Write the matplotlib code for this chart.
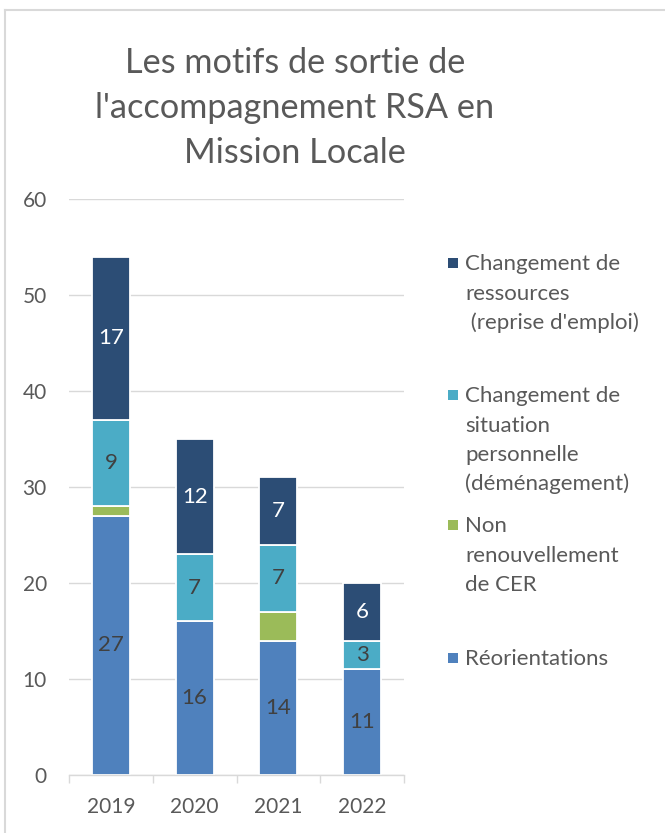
import matplotlib
matplotlib.use("Agg")
import matplotlib.pyplot as plt
from matplotlib.patches import Rectangle
from matplotlib.lines import Line2D
import numpy as np

plt.rcParams['font.family'] = ['Lato', 'DejaVu Sans']

years = ["2019", "2020", "2021", "2022"]
reorientations = [27, 16, 14, 11]
non_renouvellement = [1, 0, 3, 0]
changement_situation = [9, 7, 7, 3]
changement_ressources = [17, 12, 7, 6]

series_names = ["Réorientations",
                "Non\nrenouvellement\nde CER",
                "Changement de\nsituation\npersonnelle\n(déménagement)",
                "Changement de\nressources\n (reprise d'emploi)"]
series_values = [reorientations, non_renouvellement, changement_situation, changement_ressources]
colors = ["#4F81BD", "#9BBB59", "#4BACC6", "#2C4D75"]
label_colors = ["#404040", None, "#404040", "#FFFFFF"]

title_lines = ["Les motifs de sortie de", "l'accompagnement RSA en", "Mission Locale"]
yticks = [0, 10, 20, 30, 40, 50, 60]

W, H = 665, 833
fig = plt.figure(figsize=(W / 100, H / 100), dpi=100)
ax = fig.add_axes([69 / W, 1 - 775 / H, (404 - 69) / W, (775 - 199) / H])

grey = "#595959"
gridc = "#D9D9D9"

x = np.arange(len(years))
bottom = np.zeros(len(years))
for vals, col, lc in zip(series_values, colors, label_colors):
    v = np.array(vals, dtype=float)
    ax.bar(x, v, width=0.455, bottom=bottom, color=col,
           edgecolor="white", linewidth=1.3, zorder=3)
    if lc is not None:
        for xi, b, vi in zip(x, bottom, v):
            if vi > 0:
                ax.text(xi, b + vi / 2, f"{int(vi)}", ha="center", va="center",
                        color=lc, fontsize=16, zorder=4)
    bottom += v

ax.set_xlim(-0.5, len(years) - 0.5)
ax.set_ylim(0, 60)
ax.set_yticks(yticks)
ax.set_yticklabels([str(t) for t in yticks])
ax.set_xticks(x)
ax.set_xticklabels(years)
ax.set_xticks(np.arange(-0.5, len(years)), minor=True)
ax.tick_params(axis="x", which="major", length=0, pad=16, labelsize=15, labelcolor=grey)
ax.tick_params(axis="x", which="minor", length=5.5, width=1, color=gridc, direction="out")
ax.tick_params(axis="y", length=0, pad=16, labelsize=15, labelcolor=grey)
ax.yaxis.grid(True, color=gridc, linewidth=1.0, zorder=0)
ax.set_axisbelow(True)
for s in ["left", "right", "top"]:
    ax.spines[s].set_visible(False)
ax.spines["bottom"].set_color(gridc)
ax.spines["bottom"].set_linewidth(1.0)
ax.spines["bottom"].set_zorder(5)

# Title
for i, line in enumerate(title_lines):
    fig.text(295 / W, 1 - (73 + 45 * i) / H, line, ha="center", va="baseline",
             fontsize=24.7, color=grey)

# Legend (top to bottom: reverse order of stacking)
entry_baselines = [270, 402, 532, 665]
line_gap = 29.5
for name, col, yb in zip(series_names[::-1], colors[::-1], entry_baselines):
    fig.add_artist(Rectangle((448 / W, 1 - (yb - 2) / H), 10 / W, 10 / H,
                             transform=fig.transFigure, facecolor=col, edgecolor="none"))
    for k, ln in enumerate(name.split("\n")):
        fig.text(465 / W, 1 - (yb + k * line_gap) / H, ln, ha="left", va="baseline",
                 fontsize=16, color=grey)

# Chart border (top and left visible)
fig.add_artist(Line2D([5 / W, 1.0], [1 - 10 / H, 1 - 10 / H], transform=fig.transFigure,
                      color=gridc, linewidth=1.5))
fig.add_artist(Line2D([5 / W, 5 / W], [0.0, 1 - 10 / H], transform=fig.transFigure,
                      color=gridc, linewidth=1.5))

fig.savefig("out.png", dpi=100, facecolor="white")
